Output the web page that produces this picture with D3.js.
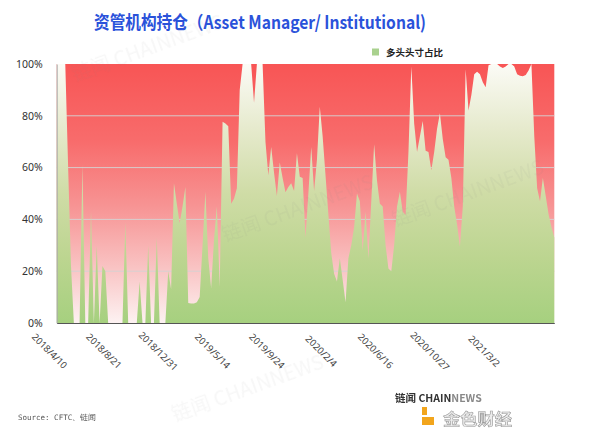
<!DOCTYPE html>
<html><head><meta charset="utf-8">
<script src="https://cdn.jsdelivr.net/npm/d3@7"></script>
<style>
html,body{margin:0;padding:0;background:#fff;}
svg{display:block;}
</style></head>
<body>
<svg id="chart" width="600" height="437"></svg>
<script>
// ---- data ----
const title = "资管机构持仓（Asset Manager/ Institutional)";
const seriesName = "多头头寸占比";
const sourceText = "Source: CFTC、链闻";
// labelled weekly report dates (every 19th report)
const labelDates = ["2018/4/10","2018/8/21","2018/12/31","2019/5/14","2019/9/24","2020/2/4","2020/6/16","2020/10/27","2021/3/2"];
const labelStep = 19;
const yTicks = [0, 20, 40, 60, 80, 100];
// long share of Asset Manager/Institutional positions, % (weekly)
const longShare = [
 100,100,100,100,60,22,0,0,0,61,
 0,0,43,0,30,0,22,20,0,0,
 0,0,0,0,39,0,0,0,0,16,
 0,0,30,0,0,33,0,0,0,20,
 13,54,46,38.5,45,52.5,7.7,7.5,7.5,8,
 10,30,50.7,25,13.5,32,45,14,77.7,77,
 76,46,48,52,90,100,100,100,100,85,
 100,100,100,70,57,68,58,49,62,56,
 50.5,52.5,54,51,65.5,56.5,56,33,50,68,
 51,63,83.5,72,57,42,27,19,16,25,
 16.6,8,25,30,37,50,47,28,43,25,
 47,69,55,46,45,30,21,20,30,45,
 50.7,43,41.7,66,99,77,66,72,78,66.5,
 66,59,66,75,81,71,64,63,56,45,
 38,29.5,45,98,82,88,96,97,96,93,
 91,99.5,100,100,100,99,98.5,99,100,100,
 99,96,95.5,95.3,95.8,97.5,100,72,52,47,
 56,49,42,37,33
];

// ---- layout ----
const plot = {left: 56.7, right: 554.3, top: 64, bottom: 323};
const svg = d3.select("#chart");
const defs = svg.append("defs");

const redG = defs.append("linearGradient").attr("id","redG")
  .attr("gradientUnits","userSpaceOnUse").attr("x1",0).attr("x2",0)
  .attr("y1",plot.top).attr("y2",plot.bottom);
[[0,"#f85555"],[0.3,"#f86c6c"],[0.55,"#f79494"],[0.8,"#f9c6c6"],[1,"#fdf2f2"]]
  .forEach(([o,c])=>redG.append("stop").attr("offset",o).attr("stop-color",c));

const greenG = defs.append("linearGradient").attr("id","greenG")
  .attr("gradientUnits","userSpaceOnUse").attr("x1",0).attr("x2",0)
  .attr("y1",plot.top).attr("y2",plot.bottom);
[[0,"#fbfbf6"],[0.25,"#e6eacd"],[0.5,"#cfdca6"],[0.75,"#bcd590"],[1,"#a6d07f"]]
  .forEach(([o,c])=>greenG.append("stop").attr("offset",o).attr("stop-color",c));

const x = d3.scaleLinear().domain([0, longShare.length-1]).range([plot.left, plot.right]);
const y = d3.scaleLinear().domain([0, 100]).range([plot.bottom, plot.top]);

// title
svg.append("text").attr("x",260).attr("y",29).attr("text-anchor","middle")
  .attr("font-family","'Noto Sans CJK SC', sans-serif").attr("font-weight","bold")
  .attr("font-size",18).attr("fill","#2a52da")
  .attr("textLength",332).attr("lengthAdjust","spacingAndGlyphs").text(title);

// legend
svg.append("rect").attr("x",372).attr("y",48.5).attr("width",7).attr("height",7).attr("fill","#a9d18e");
svg.append("text").attr("x",386).attr("y",55.5)
  .attr("font-family","'Noto Sans CJK SC', sans-serif").attr("font-weight","bold")
  .attr("font-size",9.5).attr("fill","#222").text(seriesName);

// background
svg.append("rect").attr("x",plot.left).attr("y",plot.top)
  .attr("width",plot.right-plot.left).attr("height",plot.bottom-plot.top).attr("fill","url(#redG)");

// grid
svg.append("g").selectAll("line").data(yTicks.filter(t=>t>0&&t<100)).join("line")
  .attr("x1",plot.left).attr("x2",plot.right).attr("y1",d=>y(d)).attr("y2",d=>y(d))
  .attr("stroke","#d4d4d4").attr("stroke-width",1).attr("opacity",0.9);

// area
const area = d3.area().x((d,i)=>x(i)).y0(y(0)).y1(d=>y(d)).curve(d3.curveLinear);
svg.append("path").datum(longShare).attr("d",area).attr("fill","url(#greenG)");

// y axis
const yAxis = svg.append("g").attr("transform",`translate(${plot.left},0)`)
  .call(d3.axisLeft(y).tickValues(yTicks).tickSize(0).tickPadding(14).tickFormat(d=>d+"%"));
yAxis.select(".domain").attr("stroke","#aaa");
yAxis.selectAll("text").attr("font-family","'Noto Sans', sans-serif").attr("font-size",10.5).attr("fill","#333");

// x axis
const tickIdx = labelDates.map((d,k)=>k*labelStep);
const xAxis = svg.append("g").attr("transform",`translate(0,${plot.bottom})`)
  .call(d3.axisBottom(x).tickValues(tickIdx).tickSize(0).tickFormat((d,k)=>labelDates[k]));
xAxis.select(".domain").attr("stroke","#555");
xAxis.selectAll("text")
  .attr("font-family","'Noto Sans', sans-serif").attr("font-size",9.5).attr("fill","#444")
  .attr("text-anchor","middle").attr("y",0).attr("dy",0)
  .attr("transform","translate(-10,30.5) rotate(45)");

// faint watermarks (kept inside the picture)
const wm = svg.append("g").attr("fill","#8a8a8a").attr("opacity",0.07)
  .attr("font-family","'Noto Sans CJK SC', sans-serif").attr("font-size",20);
[[150,55],[300,215],[250,395],[470,200]].forEach(([cx,cy])=>{
  wm.append("text").attr("x",cx).attr("y",cy).attr("text-anchor","middle")
    .attr("transform",`rotate(-20 ${cx} ${cy})`).text("链闻 CHAINNEWS");
});

// source
svg.append("text").attr("x",18).attr("y",420)
  .attr("font-family","'DejaVu Sans Mono', monospace").attr("font-size",7.5).attr("fill","#555")
  .text(sourceText);

// logo
const logo = svg.append("g");
const lt = logo.append("text").attr("x",395).attr("y",402)
  .attr("font-family","'Noto Sans CJK SC', sans-serif").attr("font-weight","bold").attr("font-size",10.5);
lt.append("tspan").attr("fill","#333").text("链闻 CHAIN");
lt.append("tspan").attr("fill","#888").text("NEWS");
logo.append("rect").attr("x",422).attr("y",407).attr("width",5).attr("height",8).attr("fill","#f2a51c");
logo.append("rect").attr("x",422).attr("y",417).attr("width",12).attr("height",8).attr("fill","#f2a51c");
logo.append("text").attr("x",443).attr("y",425)
  .attr("font-family","'Noto Sans CJK SC', sans-serif").attr("font-weight","bold").attr("font-size",16)
  .attr("fill","#ececec").attr("stroke","#9a9a9a").attr("stroke-width",0.6)
  .attr("textLength",69).attr("lengthAdjust","spacingAndGlyphs").text("金色财经");
</script>
</body></html>
